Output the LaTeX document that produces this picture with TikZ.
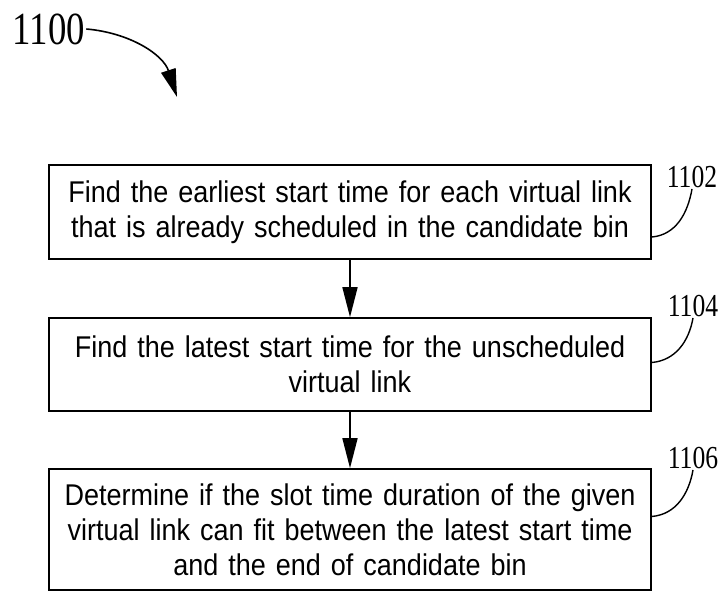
\documentclass[tikz,border=0pt]{standalone}
\usepackage{fontspec}
\setmainfont{Liberation Sans}[FakeStretch=0.9]
\newfontfamily\numfont{Liberation Serif}[FakeStretch=0.8]
\usetikzlibrary{arrows.meta}
\tikzset{
  stepbox/.style={draw, line width=1.6pt, minimum width=602pt, text width=590pt,
    align=center, inner sep=0pt, font=\fontsize{30}{35}\selectfont},
  reflabel/.style={inner sep=1pt, font=\numfont\fontsize{32}{32}\selectfont},
  flow/.style={line width=1.6pt, -{Triangle[length=30pt,width=15pt]}},
  leader/.style={line width=1.4pt},
}
\begin{document}
\begin{tikzpicture}[x=1pt,y=-1pt]
  \useasboundingbox (0,0) rectangle (725,591);
  \node[stepbox, minimum height=94pt] (earliest) at (350,212)
    {Find the earliest start time for each virtual link\\that is already scheduled in the candidate bin};
  \node[stepbox, minimum height=93pt] (latest) at (350,364.5)
    {Find the latest start time for the unscheduled\\virtual link};
  \node[stepbox, minimum height=121pt] (fit) at (350,529.5)
    {Determine if the slot time duration of the given\\virtual link can fit between the latest start time\\and the end of candidate bin};
  \draw[flow] (earliest) -- (latest);
  \draw[flow] (latest) -- (fit);
  % reference numerals
  \node[reflabel, font=\numfont\fontsize{46}{46}\selectfont] (fig) at (49,29) {1100};
  \coordinate (figtip) at (177,97);
  \draw[line width=1.6pt, -{Triangle[length=28pt,width=15pt]}]
    (fig.east) to[out=-5,in=108] (figtip);
  \node[reflabel] (n1102) at (692,177) {1102};
  \node[reflabel] (n1104) at (693,306) {1104};
  \node[reflabel] (n1106) at (693,458) {1106};
  \draw[leader] ([yshift=-25pt]earliest.east) to[out=5,in=-100] (n1102.south);
  \draw[leader] ([yshift=2pt]latest.east) to[out=5,in=-100] (n1104.south);
  \draw[leader] ([yshift=13pt]fit.east) to[out=5,in=-100] (n1106.south);
\end{tikzpicture}
\end{document}
